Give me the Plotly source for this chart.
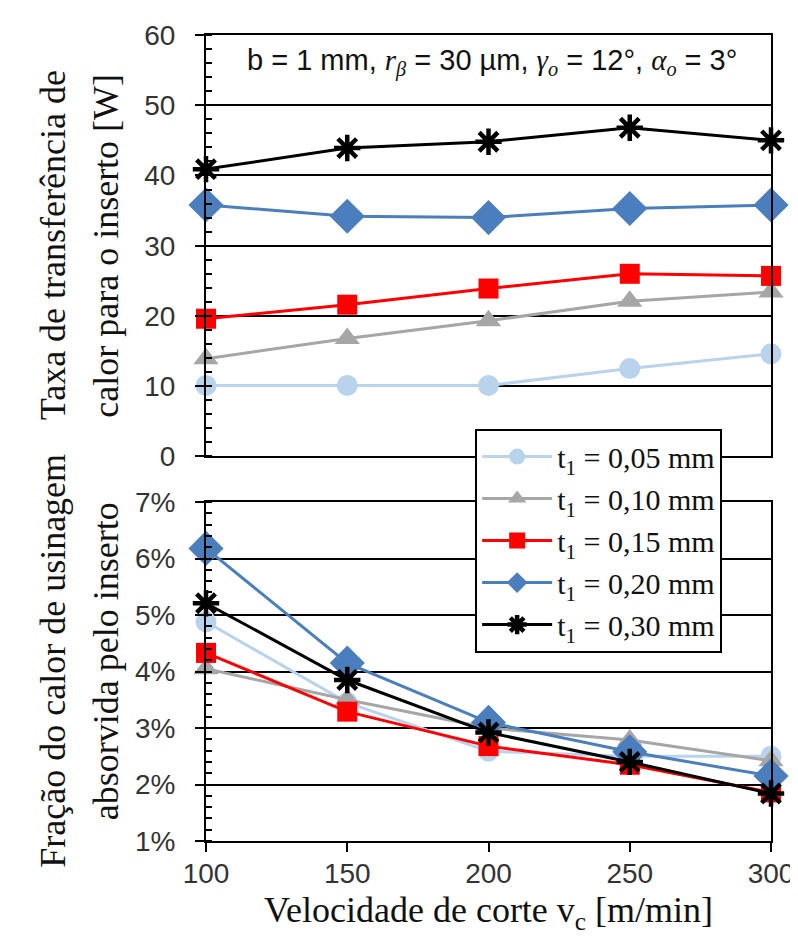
import plotly.graph_objects as go
from plotly.subplots import make_subplots

# ---- data ----
vc = [100, 150, 200, 250, 300]
series_names = ["t<sub>1</sub> = 0,05 mm", "t<sub>1</sub> = 0,10 mm", "t<sub>1</sub> = 0,15 mm",
                "t<sub>1</sub> = 0,20 mm", "t<sub>1</sub> = 0,30 mm"]

# heat transfer rate to insert [W]
q_005 = [10.1, 10.1, 10.1, 12.5, 14.6]
q_010 = [13.9, 16.8, 19.3, 22.1, 23.4]
q_015 = [19.6, 21.6, 23.9, 26.0, 25.7]
q_020 = [35.8, 34.2, 34.0, 35.3, 35.8]
q_030 = [40.9, 43.9, 44.8, 46.8, 45.0]

# fraction of machining heat absorbed by insert [%]
f_005 = [4.88, 3.45, 2.59, 2.50, 2.50]
f_010 = [4.05, 3.50, 3.00, 2.79, 2.42]
f_015 = [4.33, 3.29, 2.68, 2.35, 1.86]
f_020 = [6.18, 4.15, 3.10, 2.58, 2.15]
f_030 = [5.21, 3.85, 2.92, 2.40, 1.84]

top_ticks = [0, 10, 20, 30, 40, 50, 60]
bot_ticks = [1, 2, 3, 4, 5, 6, 7]
bot_ticktext = [f"{v}%" for v in bot_ticks]

# ---- styles ----
colors = ["#b9d3ec", "#a6a6a6", "#ff0000", "#4a7ebd", "#000000"]
symbols = ["circle", "triangle-up", "square", "diamond", "asterisk-open"]
sizes = [21, 22, 20, 27, 22]

top_data = [q_005, q_010, q_015, q_020, q_030]
bot_data = [f_005, f_010, f_015, f_020, f_030]

SERIF = "Liberation Serif"
SANS = "Liberation Sans"

fig = make_subplots(rows=2, cols=1, shared_xaxes=False, vertical_spacing=0.0)

def marker(i):
    mk = dict(symbol=symbols[i], size=sizes[i], color=colors[i])
    if symbols[i] == "asterisk-open":
        mk["line"] = dict(color=colors[i], width=4.5)
    else:
        mk["line"] = dict(width=0)
    return mk

for i in range(5):
    fig.add_trace(go.Scatter(x=vc, y=top_data[i], mode="lines+markers", name=series_names[i],
                             line=dict(color=colors[i], width=3), marker=marker(i),
                             legendgroup=str(i), showlegend=False, cliponaxis=False),
                  row=1, col=1)
for i in range(5):
    fig.add_trace(go.Scatter(x=vc, y=bot_data[i], mode="lines+markers", name=series_names[i],
                             line=dict(color=colors[i], width=3), marker=marker(i),
                             legendgroup=str(i), showlegend=True, cliponaxis=False),
                  row=2, col=1)

tickfont = dict(family=SANS, size=28, color="#333333")
titlefont = dict(family=SERIF, size=36, color="#111111")

L, R, T, B = 198, 29, 22, 104
W, H = 798, 937
ph = H - T - B
top_dom = [(833 - 446) / ph, 1.0]
bot_dom = [0.0, (833 - 492) / ph]

common_x = dict(range=[100, 300], tickvals=vc, showgrid=False, zeroline=False,
                showline=True, linecolor="black", linewidth=2, mirror=True,
                ticks="outside", ticklen=9, tickwidth=2, tickcolor="black", tickfont=tickfont,
                ticklabelstandoff=-3)
fig.update_xaxes(**common_x, domain=[0, 1])
fig.update_xaxes(showticklabels=False, ticks="", row=1, col=1)

yc = dict(showgrid=True, gridcolor="black", gridwidth=2, zeroline=False,
          showline=True, linecolor="black", linewidth=2, mirror=True,
          ticks="outside", ticklen=9, tickwidth=2, tickcolor="black", tickfont=tickfont,
          ticklabelstandoff=14)
fig.update_yaxes(domain=top_dom, range=[0, 60], tickmode="array", tickvals=top_ticks, row=1, col=1,
                 minor=dict(dtick=2, ticks="inside", ticklen=6, tickwidth=2, tickcolor="black", showgrid=False),
                 **yc)
fig.update_yaxes(domain=bot_dom, range=[1, 7], tickmode="array", tickvals=bot_ticks, ticktext=bot_ticktext,
                 row=2, col=1,
                 minor=dict(dtick=0.2, ticks="inside", ticklen=6, tickwidth=2, tickcolor="black", showgrid=False),
                 **yc)

def px_x(px):
    return (px - L) / (W - L - R)

def px_y(py):
    return (H - B - py) / ph

ann = []
ann.append(dict(text="Taxa de transferência de", x=px_x(43), y=px_y(234), textangle=-90))
ann.append(dict(text="calor para o inserto [W]", x=px_x(97), y=px_y(234), textangle=-90))
ann.append(dict(text="Fração do calor de usinagem", x=px_x(43), y=px_y(652), textangle=-90))
ann.append(dict(text="absorvida pelo inserto", x=px_x(97), y=px_y(652), textangle=-90))
ann.append(dict(text="Velocidade de corte v<sub>c</sub> [m/min]", x=0.5, y=px_y(905), textangle=0))
for a in ann:
    fig.add_annotation(xref="paper", yref="paper", xanchor="center", yanchor="middle",
                       showarrow=False, font=titlefont, **a)

serif_span = "font-family:" + SERIF
fig.add_annotation(xref="paper", yref="paper", x=px_x(487), y=px_y(50), xanchor="center", yanchor="middle",
                   showarrow=False,
                   font=dict(family=SANS, size=29, color="#111111"),
                   text=("b = 1 mm, <span style='" + serif_span + "'><i>r</i><sub><i>β</i></sub></span> = 30 µm, "
                         "<span style='" + serif_span + "'><i>γ</i><sub><i>o</i></sub></span> = 12°, "
                         "<span style='" + serif_span + "'><i>α</i><sub><i>o</i></sub></span> = 3°"))

fig.update_layout(
    width=W, height=H,
    margin=dict(l=L, r=R, t=T, b=B),
    paper_bgcolor="white", plot_bgcolor="white",
    font=dict(family=SANS),
    showlegend=True,
    legend=dict(x=px_x(470), y=px_y(418), xanchor="left", yanchor="top",
                bgcolor="white", bordercolor="black", borderwidth=2,
                font=dict(family=SERIF, size=30, color="#111111"),
                tracegroupgap=0, itemwidth=70),
)

fig.write_html("out.html")
